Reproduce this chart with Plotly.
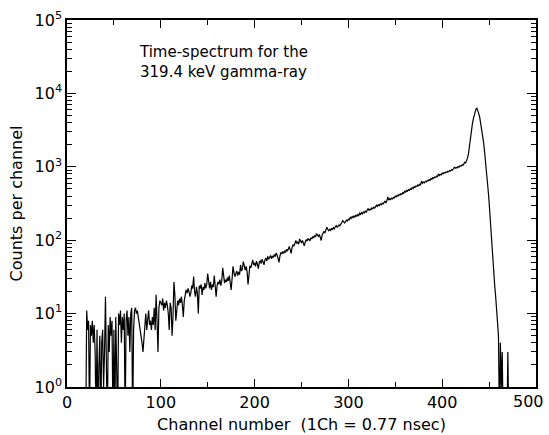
import numpy as np
import plotly.graph_objects as go

# ---- data (counts per channel) ----
start_channel = 20

counts_low = [  # channels 20-100
    0, 11, 6, 8, 0, 7, 5, 8, 4, 7,
    3, 0, 6, 0, 2, 5, 0, 4, 6, 1,
    3, 17, 2, 0, 7, 3, 9, 5, 8, 0,
    6, 0, 9, 1, 0, 10, 7, 11, 4, 9,
    6, 10, 0, 8, 11, 5, 9, 3, 10, 12,
    0, 6, 11, 12, 10, 11, 9, 8, 7, 5,
    4, 3, 5, 7, 10, 6, 9, 11, 7, 8,
    6, 9, 7, 12, 6, 18, 8, 3, 12, 15,
    14,
]
counts_mid = [  # channels 101-200
    13, 16, 11, 14, 12, 15, 13, 10, 6, 14,
    12, 5, 9, 27, 18, 8, 11, 15, 13, 16,
    14, 17, 13, 9, 15, 18, 21, 19, 22, 20,
    17, 19, 24, 22, 32, 20, 17, 23, 19, 10,
    24, 22, 25, 18, 23, 21, 26, 22, 25, 35,
    24, 22, 27, 21, 25, 23, 33, 26, 17, 24,
    27, 25, 29, 24, 28, 42, 30, 26, 29, 27,
    31, 28, 33, 27, 21, 30, 44, 36, 32, 35,
    38, 33, 37, 34, 46, 38, 41, 51, 42, 39,
    44, 37, 25, 40, 45, 42, 48, 54, 46, 49,
]
counts_rise1 = [  # channels 201-300
    44, 52, 47, 41, 50, 53, 48, 55, 51, 46,
    54, 57, 52, 60, 55, 59, 62, 56, 61, 58,
    64, 60, 67, 63, 57, 50, 61, 68, 65, 70,
    66, 72, 68, 75, 71, 78, 82, 74, 66, 80,
    86, 83, 92, 99, 90, 95, 88, 104, 97, 93,
    99, 90, 84, 95, 101, 97, 106, 102, 98, 108,
    104, 112, 107, 116, 111, 123, 117, 113, 120, 106,
    99, 118, 125, 131, 127, 138, 150, 141, 135, 140,
    136, 145, 139, 148, 143, 152, 158, 150, 155, 162,
    157, 168, 174, 185, 178, 172, 181, 188, 183, 194,
]
counts_rise2 = [  # channels 301-425
    190, 205, 198, 210, 203, 214, 207, 219, 212, 224,
    216, 233, 225, 238, 229, 243, 236, 249, 241, 258,
    270, 255, 266, 260, 275, 268, 282, 274, 291, 300,
    288, 305, 297, 312, 303, 320, 312, 331, 339, 326,
    345, 389, 352, 367, 358, 375, 366, 384, 376, 398,
    390, 408, 399, 420, 410, 430, 421, 444, 435, 470,
    452, 477, 465, 489, 478, 500, 492, 518, 506, 535,
    524, 548, 539, 565, 552, 580, 570, 640, 598, 620,
    606, 635, 622, 650, 640, 668, 655, 690, 676, 712,
    700, 725, 714, 748, 735, 800, 762, 790, 775, 820,
    806, 835, 822, 850, 838, 868, 855, 892, 876, 918,
    902, 940, 985, 955, 980, 965, 1010, 990, 1035, 1020,
    1060, 1045, 1090, 1150, 1130,
]
counts_peak = [  # channels 426-471
    1200, 1320, 1500, 1950, 2500, 3100, 3700, 4400, 5100, 5700,
    6100, 6250, 5900, 5300, 4700, 4000, 3300, 2700, 2200, 1700,
    1300, 1000, 720, 480, 330, 200, 120, 80, 55, 38,
    24, 17, 11, 8, 5, 0, 4, 1, 3, 0,
    0, 0, 0, 0, 3, 0,
]

x_tick_vals = [0, 100, 200, 300, 400, 500]
x_tick_text = ["0", "100", "200", "300", "400", "500"]
y_tick_vals = [1, 10, 100, 1000, 10000, 100000]
y_tick_text = ["10<sup>0</sup>", "10<sup>1</sup>", "10<sup>2</sup>",
               "10<sup>3</sup>", "10<sup>4</sup>", "10<sup>5</sup>"]

title_text = "Time-spectrum for the<br>319.4 keV gamma-ray"
x_title = "Channel number  (1Ch = 0.77 nsec)"
y_title = "Counts per channel"

# ---- build ----
counts = np.array(counts_low + counts_mid + counts_rise1 + counts_rise2 + counts_peak, dtype=float)
channels = np.arange(start_channel, start_channel + len(counts))
plot_counts = np.where(counts > 0, counts, 0.3)  # zero counts fall below the axis

FONT = "DejaVu Sans"

fig = go.Figure()
fig.add_trace(go.Scatter(
    x=channels, y=plot_counts, mode="lines",
    line=dict(color="black", width=1.2),
    showlegend=False, hoverinfo="skip",
))

minor_y = [m * 10 ** d for d in range(0, 5) for m in range(2, 10)]

# the last x label sits at the figure edge, so it is drawn nudged inward
axis_labels = x_tick_text[:-1] + [""]

fig.update_layout(
    width=549, height=435,
    margin=dict(l=67, r=13, t=20, b=48, autoexpand=False),
    paper_bgcolor="white", plot_bgcolor="white",
    font=dict(family=FONT, color="black", size=15),
    xaxis=dict(
        range=[0, 500], showgrid=False, zeroline=False, automargin=False,
        showline=True, linecolor="black", linewidth=1.5, mirror="ticks",
        ticks="inside", ticklen=8, tickwidth=1.2, tickcolor="black",
        tickvals=x_tick_vals, ticktext=axis_labels,
        tickfont=dict(family=FONT, size=16),
        minor=dict(ticks="inside", ticklen=5, tickwidth=1.2, tickcolor="black",
                   tickvals=[50, 150, 250, 350, 450], showgrid=False),
        title=dict(text=x_title, font=dict(family=FONT, size=16), standoff=8),
    ),
    yaxis=dict(
        type="log", range=[0, 5], showgrid=False, zeroline=False, automargin=False,
        showline=True, linecolor="black", linewidth=1.5, mirror="ticks",
        ticks="inside", ticklen=9, tickwidth=1.2, tickcolor="black",
        tickvals=y_tick_vals, ticktext=y_tick_text,
        tickfont=dict(family=FONT, size=16),
        minor=dict(ticks="inside", ticklen=5, tickwidth=1.2, tickcolor="black",
                   tickvals=minor_y, showgrid=False),
        title=dict(text=y_title, font=dict(family=FONT, size=16), standoff=8),
    ),
    annotations=[
        dict(
            text=title_text, x=75, y=4.43, xref="x", yref="y",
            xanchor="left", yanchor="middle", align="left", showarrow=False,
            font=dict(family=FONT, size=15, color="black"),
        ),
        dict(
            text=x_tick_text[-1], x=x_tick_vals[-1], y=0, xref="x", yref="paper",
            xanchor="center", yanchor="top", xshift=-8, yshift=-3, showarrow=False,
            font=dict(family=FONT, size=16, color="black"),
        ),
    ],
)

fig.write_html("out.html")
